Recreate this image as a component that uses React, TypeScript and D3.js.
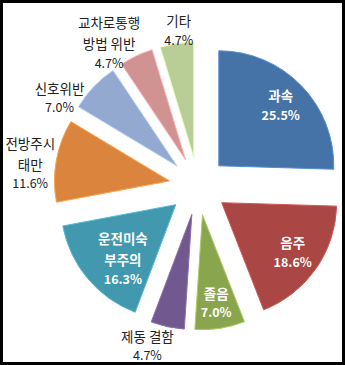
import React from 'react';
import * as d3 from 'd3';

// causes of accidents, clockwise from 12 o'clock
const causes = [
  ['과속'],
  ['음주'],
  ['졸음'],
  ['제동 결함'],
  ['운전미숙', '부주의'],
  ['전방주시', '태만'],
  ['신호위반'],
  ['교차로통행', '방법 위반'],
  ['기타'],
];
const shares = [25.5, 18.6, 7.0, 4.7, 16.3, 11.6, 7.0, 4.7, 4.7];
const colors = ['#4572A7', '#AA4643', '#89A54E', '#71588F', '#4198AF', '#DB843D', '#93A9CF', '#D19392', '#B9CD96'];
const inside = [true, true, true, false, true, false, false, false, false];

// label placement: radius (in R) and angle nudge (deg) measured from the slice apex
const labelLayout = [
  { r: 0.75, da: 0 },
  { r: 0.755, da: 0 },
  { r: 0.78, da: 0 },
  { r: 1.21, da: 6.4 },
  { r: 0.66, da: -5.8 },
  { r: 1.22, da: -3.1 },
  { r: 1.18, da: -13.6 },
  { r: 1.21, da: -8 },
  { r: 1.11, da: 1.7 },
];

const W = 345;
const H = 365;
const cx = 198;
const cy = 186;
const R = 115;
const explode = 29;
const font = '"Noto Sans CJK KR", "Noto Sans", sans-serif';

const App = () => {
  const pie = d3.pie<number>().sort(null).value(d => d).startAngle(0).endAngle(2 * Math.PI);
  const arcs = pie(shares);
  const arc = d3.arc<d3.PieArcDatum<number>>().innerRadius(0).outerRadius(R);

  return (
    <div style={{ position: 'fixed', left: 0, top: 0 }}>
      <svg width={W} height={H} style={{ display: 'block' }}>
        <rect x={0} y={0} width={W} height={H} fill="#fff" />
        <g transform={`translate(${cx},${cy})`}>
          {arcs.map((a, i) => {
            const mid = (a.startAngle + a.endAngle) / 2;
            const ox = Math.sin(mid) * explode;
            const oy = -Math.cos(mid) * explode;
            const lay = labelLayout[i];
            const la = mid + (lay.da * Math.PI) / 180;
            const lx = ox + Math.sin(la) * lay.r * R;
            const ly = oy - Math.cos(la) * lay.r * R;
            const lines = [...causes[i], shares[i].toFixed(1) + '%'];
            // spacing: korean lines a bit taller than the percent line
            const gaps = lines.map((_, j) => (j === 0 ? 0 : j === lines.length - 1 ? 19 : 21));
            const total = gaps.reduce((s, g) => s + g, 0);
            let yy = ly - total / 2;
            const c = d3.color(colors[i])!;
            return (
              <g key={i}>
                <path
                  d={arc(a) || ''}
                  transform={`translate(${ox},${oy})`}
                  fill={colors[i]}
                  stroke={c.brighter(0.6).formatHex()}
                  strokeWidth={1}
                />
                {lines.map((t, j) => {
                  yy += gaps[j];
                  const pct = j === lines.length - 1;
                  return (
                    <text
                      key={j}
                      x={lx}
                      y={yy}
                      dy="0.36em"
                      textAnchor="middle"
                      fontFamily={font}
                      fontSize={pct ? 12.5 : 13.5}
                      fontWeight={inside[i] ? 'bold' : 'normal'}
                      fill={inside[i] ? '#fff' : '#222'}
                    >
                      {t}
                    </text>
                  );
                })}
              </g>
            );
          })}
        </g>
        <rect x={1.5} y={1.5} width={W - 3} height={H - 3} fill="none" stroke="#000" strokeWidth={3} />
      </svg>
    </div>
  );
};

export default App;
